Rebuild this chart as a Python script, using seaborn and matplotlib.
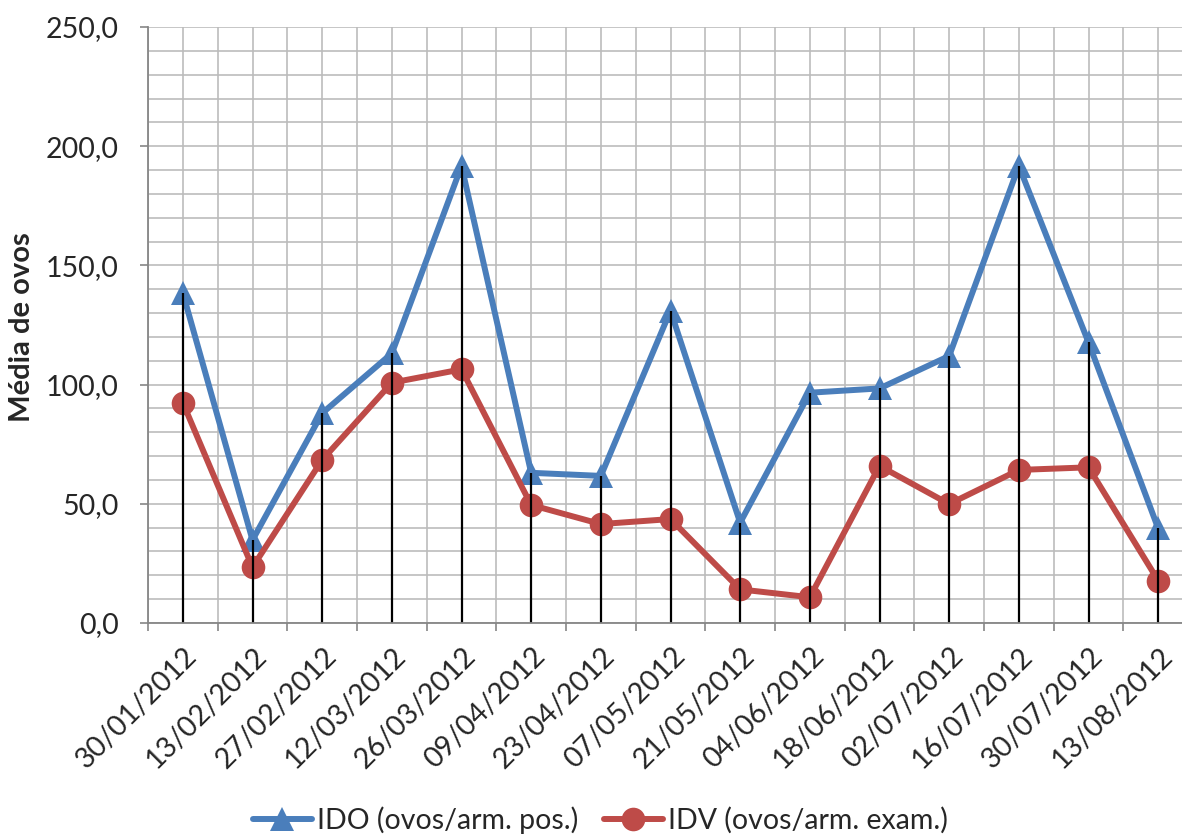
import numpy as np
import pandas as pd
import matplotlib
matplotlib.use("Agg")
import matplotlib.pyplot as plt
from matplotlib.lines import Line2D
from matplotlib.transforms import ScaledTranslation
from matplotlib.ticker import FuncFormatter
import seaborn as sns

# Collection dates (fortnightly samples)
datas = ["30/01/2012", "13/02/2012", "27/02/2012", "12/03/2012", "26/03/2012",
         "09/04/2012", "23/04/2012", "07/05/2012", "21/05/2012", "04/06/2012",
         "18/06/2012", "02/07/2012", "16/07/2012", "30/07/2012", "13/08/2012"]

# Egg density index (eggs per positive trap)
ido = [138.4, 34.8, 88.0, 113.1, 191.7, 63.0, 61.7, 131.0, 42.1, 96.6,
       98.4, 112.0, 191.7, 117.7, 39.7]

# Trap positivity-weighted index (eggs per examined trap)
idv = [92.4, 23.4, 68.4, 100.8, 106.4, 49.5, 41.5, 43.6, 14.1, 10.8,
       65.9, 49.9, 64.2, 65.3, 17.8]

serie_ido = "IDO (ovos/arm. pos.)"
serie_idv = "IDV (ovos/arm. exam.)"

sns.set_theme(style="white")
plt.rcParams["font.family"] = ["Lato", "DejaVu Sans"]

azul = "#4A7EBB"
vermelho = "#BE4B48"
cinza_eixo = "#868686"
cinza_grade = "#BCBCBC"
fs = 20.5

pos = np.arange(len(datas))
df = pd.DataFrame({
    "pos": np.concatenate([pos, pos]),
    "valor": ido + idv,
    "serie": [serie_ido] * len(ido) + [serie_idv] * len(idv),
})

fig = plt.figure(figsize=(11.82, 8.34), dpi=100)
ax = fig.add_axes([148 / 1182, (834 - 623) / 834, (1193 - 148) / 1182, (623 - 27) / 834])

# grid: every 10 units vertically, every half category horizontally
for y in np.arange(0, 251, 10):
    ax.axhline(y, color=cinza_grade, lw=1.2, zorder=0)
for x in np.arange(-0.5, len(datas), 0.5):
    ax.axvline(x, color=cinza_grade, lw=1.2, zorder=0)

sns.lineplot(data=df, x="pos", y="valor", hue="serie", style="serie",
             palette={serie_ido: azul, serie_idv: vermelho},
             markers={serie_ido: "^", serie_idv: "o"}, dashes=False,
             linewidth=4.3, markersize=17, markeredgewidth=0,
             legend=False, ax=ax, zorder=3)

# drop lines from the highest point of each date down to the axis
topo = np.maximum(np.array(ido), np.array(idv))
ax.vlines(pos, 0, topo, colors="black", lw=1.6, zorder=5)

ax.set_xlim(-0.5, len(datas) - 0.5)
ax.set_ylim(0, 250)
ax.set_yticks(np.arange(0, 251, 50))
ax.yaxis.set_major_formatter(FuncFormatter(lambda v, p: f"{v:.1f}".replace(".", ",")))
ax.tick_params(axis="y", direction="out", length=6, width=1.2, color=cinza_eixo,
               labelsize=fs, pad=15, left=True)

ax.set_xticks(np.arange(-0.5, len(datas), 1.0))
ax.set_xticklabels([])
ax.set_xticks(pos, minor=True)
ax.set_xticklabels(datas, minor=True, rotation=45, ha="right",
                   rotation_mode="anchor", fontsize=fs)
ax.tick_params(axis="x", which="major", direction="out", length=6, width=1.2,
               color=cinza_eixo, bottom=True)
ax.tick_params(axis="x", which="minor", length=0, pad=14, bottom=True)
for lab in ax.get_xticklabels(minor=True):
    lab.set_transform(lab.get_transform() + ScaledTranslation(1 / 100, 0, fig.dpi_scale_trans))

ax.set_xlabel("")
ax.set_ylabel("")
for s in ["top", "right"]:
    ax.spines[s].set_visible(False)
for s in ["left", "bottom"]:
    ax.spines[s].set_color(cinza_eixo)
    ax.spines[s].set_linewidth(1.3)
    ax.spines[s].set_zorder(6)

fig.text(22 / 1182, 1 - 327 / 834, "Média de ovos", rotation=90, ha="center",
         va="center", fontsize=fs + 0.5, fontweight="bold")

handles = [
    Line2D([], [], color=azul, lw=4.3, marker="^", markersize=17, markeredgewidth=0),
    Line2D([], [], color=vermelho, lw=4.3, marker="o", markersize=17, markeredgewidth=0),
]
fig.legend(handles, [serie_ido, serie_idv], loc="center",
           bbox_to_anchor=(600 / 1182, 1 - 820 / 834), ncol=2, frameon=False,
           fontsize=fs, handlelength=2.1, handletextpad=0.15, columnspacing=0.9)

fig.savefig("out.png", dpi=100)
